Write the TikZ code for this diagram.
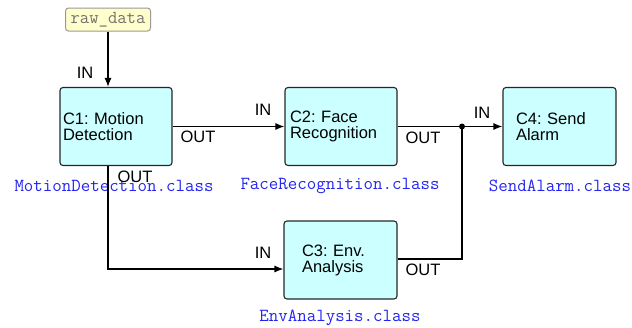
\documentclass[tikz,border=0pt]{standalone}
\usepackage{fontspec}
\setmainfont{Liberation Sans}
\usetikzlibrary{arrows.meta}
\definecolor{boxfill}{HTML}{CCFFFF}
\definecolor{rawfill}{HTML}{FFFFCC}
\definecolor{classblue}{HTML}{2424F0}
\begin{document}
\frenchspacing
\begin{tikzpicture}[x=1pt,y=-1pt,
  comp/.style={draw=black!85, line width=1.1pt, fill=boxfill, rounded corners=3pt,
    minimum height=78pt, align=left, inner ysep=0pt,
    font=\fontsize{16.5}{16}\selectfont},
  raw/.style={draw=black!40, line width=1pt, fill=rawfill, rounded corners=3pt,
    minimum width=85pt, minimum height=23pt, inner sep=0pt, text=black!55,
    font=\ttfamily\fontsize{18.2}{16}\selectfont},
  cls/.style={text=classblue, font=\ttfamily\fontsize{18.4}{16}\selectfont, inner sep=0pt},
  port/.style={font=\fontsize{16.5}{16}\selectfont, inner sep=0pt},
  wire/.style={draw=black, line width=1.2pt},
  arr/.style={wire, -{Latex[length=9pt,width=7pt]}}
]
\useasboundingbox (0,0) rectangle (632,327);

\node[raw] (rawd) at (108,19.5) {raw\_data};
\node[comp, text width=106pt, inner xsep=3pt] (c1) at (116,126.5) {C1: Motion\\Detection};
\node[comp, text width=102pt, inner xsep=5pt] (c2) at (341,126.5) {C2: Face\\Recognition};
\node[comp, text width=77pt, inner xsep=18pt] (c3) at (340.5,260) {C3: Env.\\Analysis};
\node[comp, text width=87pt, inner xsep=13pt] (c4) at (559.5,126.5) {C4: Send\\Alarm};

\node[cls] (l1) at (114,186) {MotionDetection.class};
\node[cls] (l2) at (340,186) {FaceRecognition.class};
\node[cls] (l4) at (560,186) {SendAlarm.class};
\node[cls] (l3) at (340,318) {EnvAnalysis.class};

\coordinate (j) at (462,126.5);
\coordinate (c1out) at (108,166);
\coordinate (c3in) at (c3.west |- 0,269);
\coordinate (c3out) at (c3.east |- 0,259);

\draw[arr] (rawd.south) -- (rawd.south |- c1.north);
\draw[arr] (c1.east) -- (c2.west);
\draw[wire] (c2.east) -- (j);
\draw[arr] (j) -- (c4.west);
\draw[wire] (c3out) -- (j |- c3out) -- (j);
\fill (j) circle (3pt);
\draw[arr] (c1out) -- (c1out |- c3in) -- (c3in);

\node[port] (p1) at (85,73) {IN};
\node[port] (p2) at (198,137) {OUT};
\node[port] (p3) at (263,110) {IN};
\node[port] (p4) at (423,138) {OUT};
\node[port] (p5) at (482,113) {IN};
\node[port] (p6) at (135,177) {OUT};
\node[port] (p7) at (263,253) {IN};
\node[port] (p8) at (423,270) {OUT};
\end{tikzpicture}
\end{document}
